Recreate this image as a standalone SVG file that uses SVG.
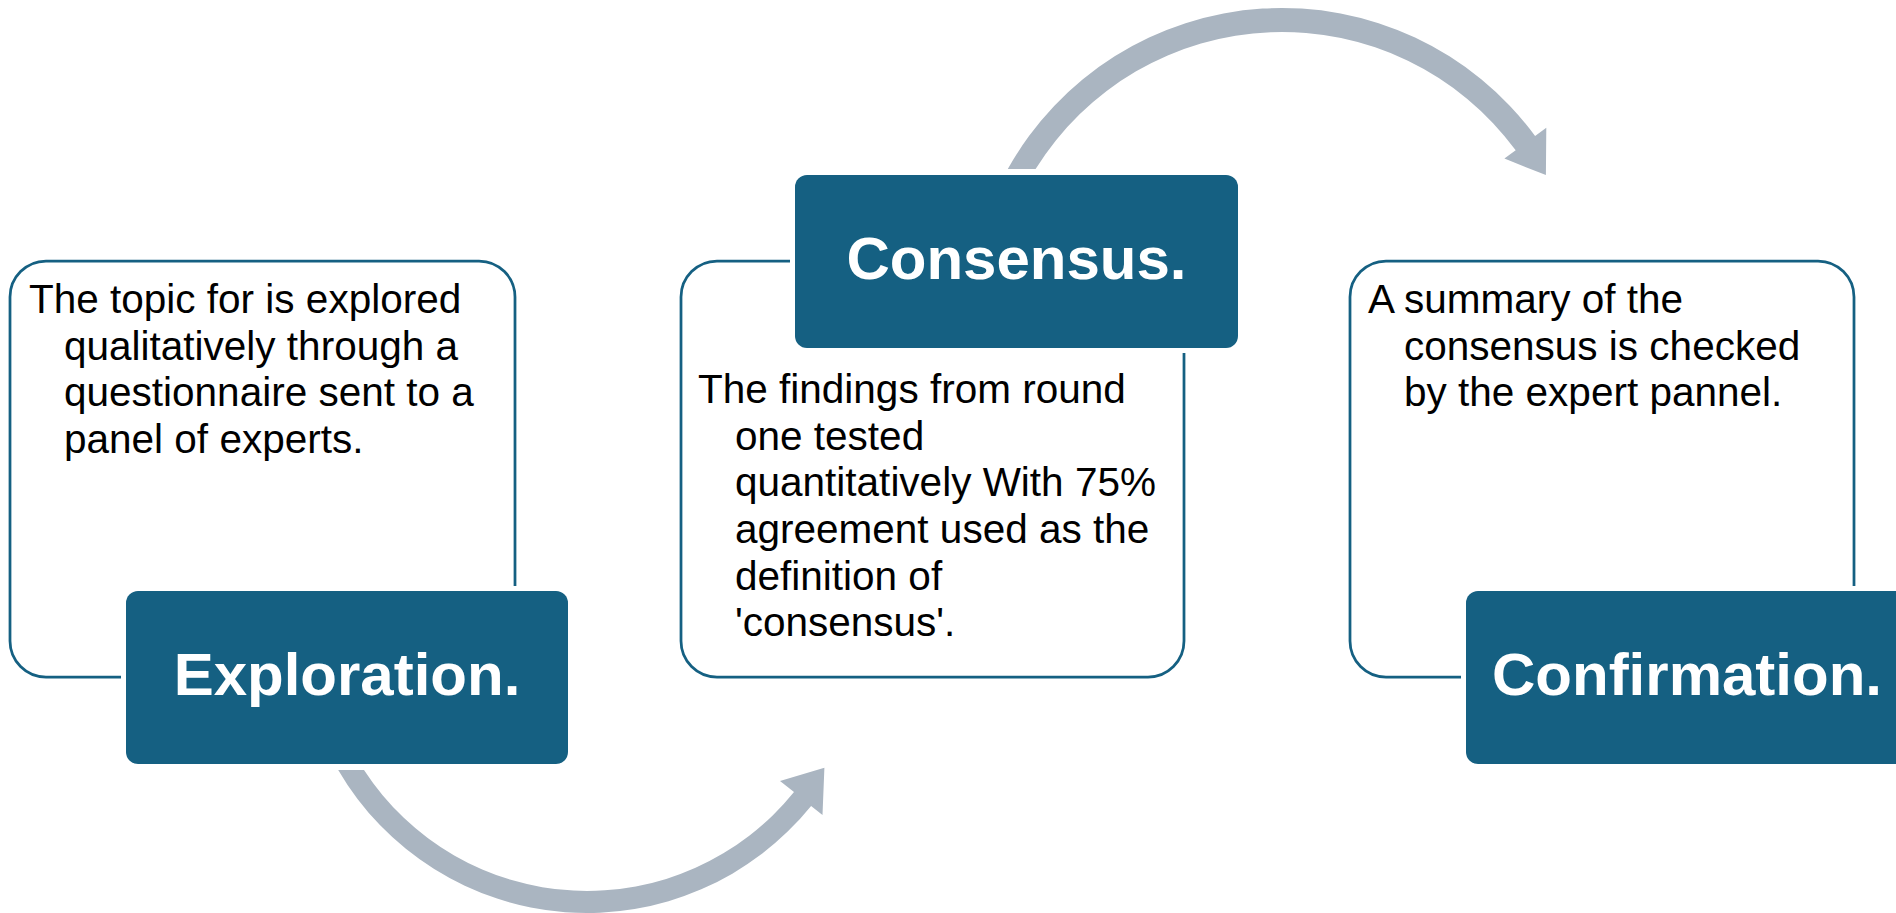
<svg xmlns="http://www.w3.org/2000/svg" width="1896" height="913" viewBox="0 0 1896 913">
<style>
.outline{fill:#fff;stroke:#156082;stroke-width:2.75}
.head{fill:#156082;stroke:#fff;stroke-width:10;paint-order:stroke}
.title{font-family:"Liberation Sans",Arial,sans-serif;font-weight:bold;font-size:60px;fill:#fff;text-anchor:middle}
.body{font-family:"Liberation Sans",Arial,sans-serif;font-size:40.5px;fill:#000}
.arrow{fill:#AAB5C1;stroke:none}
</style>
<rect width="1896" height="913" fill="#fff"/>
<g id="exploration">
<rect class="outline" x="10" y="261" width="505" height="416" rx="36"/>
<text class="body"><tspan x="29" y="313">The topic for is explored</tspan><tspan x="64" y="359.7">qualitatively through a</tspan><tspan x="64" y="406.4">questionnaire sent to a</tspan><tspan x="64" y="453">panel of experts.</tspan></text>
<rect class="head" x="126" y="591" width="442" height="173" rx="12"/>
<text class="title" x="347" y="695">Exploration.</text>
</g>
<g id="consensus">
<rect class="outline" x="681" y="261" width="503" height="416" rx="36"/>
<text class="body"><tspan x="698" y="403">The findings from round</tspan><tspan x="735" y="449.7">one tested</tspan><tspan x="735" y="496.4">quantitatively With 75%</tspan><tspan x="735" y="543">agreement used as the</tspan><tspan x="735" y="589.7">definition of</tspan><tspan x="735" y="636.4">'consensus'.</tspan></text>
<rect class="head" x="795" y="175" width="443" height="173" rx="12"/>
<text class="title" x="1016.5" y="279">Consensus.</text>
</g>
<g id="confirmation">
<rect class="outline" x="1350" y="261" width="504" height="416" rx="36"/>
<text class="body"><tspan x="1368" y="313">A summary of the</tspan><tspan x="1404" y="359.7">consensus is checked</tspan><tspan x="1404" y="406.4">by the expert pannel.</tspan></text>
<rect class="head" x="1466" y="591" width="442" height="173" rx="12"/>
<text class="title" x="1687" y="695">Confirmation.</text>
</g>
<g id="connectors">
<path class="arrow" d="M 338.2,770 A 288 288 0 0 0 811.1,805.9 L 822.5,815 L 824.4,767.7 L 780,781 L 794,792 A 266 266 0 0 1 364,770 Z"/>
<path class="arrow" d="M 1007.8,169 A 314 314 0 0 1 1535.1,136.1 L 1546.3,127.8 L 1545.9,175.1 L 1504.4,158.6 L 1515.7,150.3 A 290 290 0 0 0 1035.6,169 Z"/>
</g>
</svg>
